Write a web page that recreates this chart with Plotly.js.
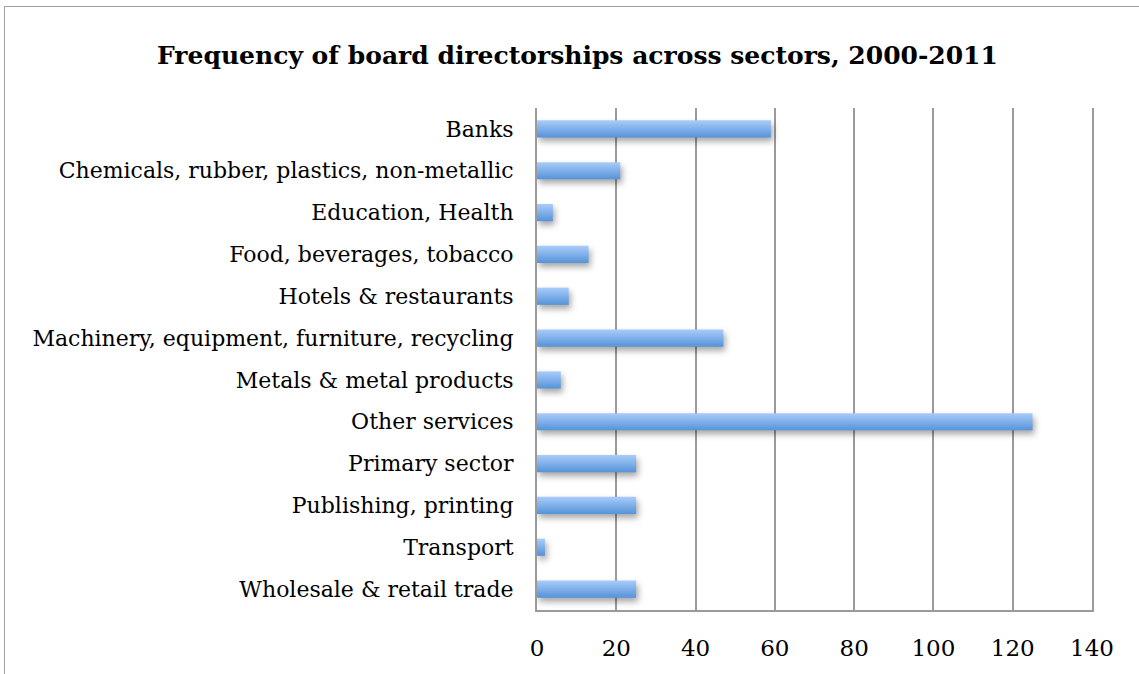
<!DOCTYPE html>
<html>
<head>
<meta charset="utf-8">
<script src="https://cdn.plot.ly/plotly-3.0.1.min.js"></script>
<style>
  html, body { margin: 0; padding: 0; background: #fff; }
  #wrap { position: relative; width: 1139px; height: 674px; overflow: hidden; }
  #frame { position: absolute; left: 4px; top: 6px; width: 1140px; height: 680px; border: 1px solid #a0a0a0; box-sizing: border-box; pointer-events: none; }
  #chart { position: absolute; left: 0; top: 0; width: 1139px; height: 674px; }
  #chart .bars .point path { fill: url(#barGrad) !important; filter: drop-shadow(2px 4px 3px rgba(0,0,0,0.35)); }
</style>
</head>
<body>
<svg width="0" height="0" style="position:absolute">
  <defs>
    <linearGradient id="barGrad" x1="0" y1="0" x2="0" y2="1">
      <stop offset="0" stop-color="#a9ccfa"/>
      <stop offset="1" stop-color="#5593d9"/>
    </linearGradient>
  </defs>
</svg>
<div id="wrap">
  <div id="chart"></div>
  <div id="frame"></div>
</div>
<script>
const categories = [
  "Banks",
  "Chemicals, rubber, plastics, non-metallic",
  "Education, Health",
  "Food, beverages, tobacco",
  "Hotels & restaurants",
  "Machinery, equipment, furniture, recycling",
  "Metals & metal products",
  "Other services",
  "Primary sector",
  "Publishing, printing",
  "Transport",
  "Wholesale & retail trade"
];
const values = [59, 21, 4, 13, 8, 47, 6, 125, 25, 25, 2, 25];
const xTicks = [0, 20, 40, 60, 80, 100, 120, 140];
const titleText = "Frequency of board directorships across sectors, 2000-2011";

const trace = {
  type: "bar",
  orientation: "h",
  y: categories,
  x: values,
  marker: { color: "#7aaeea" },
  hoverinfo: "x+y"
};

const layout = {
  width: 1139,
  height: 674,
  margin: { l: 537, r: 47, t: 108, b: 64 },
  paper_bgcolor: "rgba(0,0,0,0)",
  plot_bgcolor: "#fff",
  bargap: 0.59,
  showlegend: false,
  title: {
    text: "<b>" + titleText + "</b>",
    x: 0.507, xanchor: "center",
    y: 0.918, yanchor: "middle",
    font: { family: "DejaVu Serif", size: 25, color: "#000" }
  },
  xaxis: {
    range: [0, 140],
    tickvals: xTicks,
    ticktext: xTicks.map(String),
    showgrid: true,
    gridcolor: "#9a9a9a",
    gridwidth: 2,
    zeroline: false,
    showline: true,
    linecolor: "#9a9a9a",
    linewidth: 2,
    ticks: "",
    ticklabelstandoff: 16,
    tickfont: { family: "DejaVu Serif", size: 23, color: "#000" },
    fixedrange: true
  },
  yaxis: {
    autorange: "reversed",
    categoryorder: "array",
    categoryarray: categories,
    showgrid: false,
    zeroline: false,
    showline: true,
    mirror: true,
    linecolor: "#9a9a9a",
    linewidth: 2,
    ticks: "",
    ticklabelstandoff: 17,
    tickfont: { family: "DejaVu Serif", size: 22, color: "#000" },
    fixedrange: true
  }
};

Plotly.newPlot("chart", [trace], layout, { displayModeBar: false, staticPlot: true });
</script>
</body>
</html>
